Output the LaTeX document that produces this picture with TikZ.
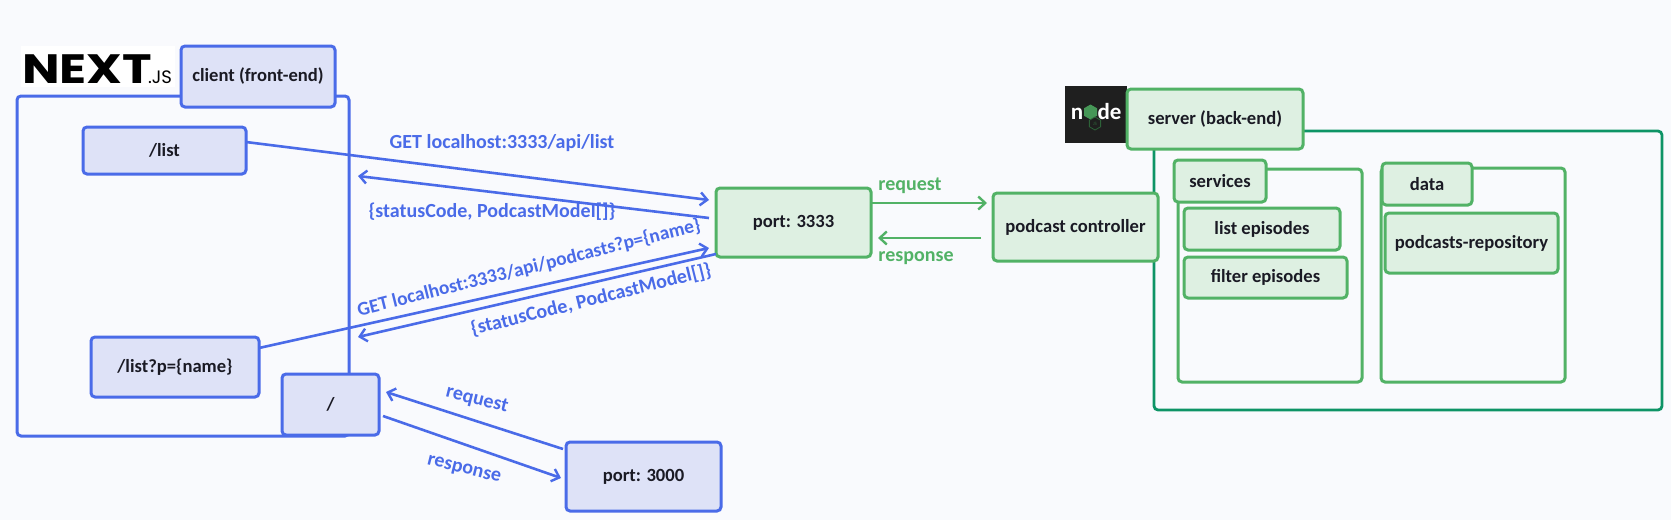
\documentclass[tikz,border=0pt]{standalone}
\usepackage{fontspec}
\setmainfont{Carlito}
\newfontfamily\logofont{Poppins}
\usetikzlibrary{arrows.meta,shapes.geometric}
\definecolor{bgc}{HTML}{F9FAFD}
\definecolor{bl}{HTML}{4A6BE8}
\definecolor{blf}{HTML}{DEE2F7}
\definecolor{gr}{HTML}{52B266}
\definecolor{grf}{HTML}{DEF0E2}
\definecolor{dg}{HTML}{0E9466}
\definecolor{txt}{HTML}{1A1A24}
\tikzset{
  every node/.style={outer sep=0pt,inner sep=0pt},
  box/.style={draw,line width=3pt,rounded corners=4pt,font=\fontsize{18.6}{21}\selectfont\bfseries,text=txt},
  bbox/.style={box,draw=bl,fill=blf},
  gbox/.style={box,draw=gr,fill=grf},
  bframe/.style={draw=bl,line width=3pt,rounded corners=4pt},
  gframe/.style={draw=gr,line width=3pt,rounded corners=4pt},
  dframe/.style={draw=dg,line width=2.8pt,rounded corners=4pt},
  blink/.style={bl,line width=2.6pt},
  glink/.style={gr,line width=2.6pt},
  barb/.style={-{Straight Barb[length=7pt,width=13pt,line width=2.4pt]}},
  blabel/.style={text=bl,font=\fontsize{20}{22}\selectfont\bfseries},
  glabel/.style={text=gr,font=\fontsize{20}{22}\selectfont\bfseries},
}
\begin{document}
\begin{tikzpicture}[x=1pt,y=-1pt]
\useasboundingbox[fill=bgc] (0,0) rectangle (1671,520);
% logos
\node[fill=white,minimum width=154pt,minimum height=41pt] (nextbg) at (98,66.5) {};
\node[font=\logofont\fontsize{41}{41}\selectfont\bfseries,text=black,anchor=base west,xscale=1.22] (nextname) at (22,83) {NEXT};
\node[font=\logofont\fontsize{18}{18}\selectfont,text=black,anchor=base west] (nextjs) at (148,83) {.JS};
\node[fill=black!88,minimum width=62pt,minimum height=57pt] (nodebg) at (1096,114.5) {};
\node[font=\fontsize{23}{23}\selectfont\bfseries,text=white,anchor=base] (noden) at (1077,119) {n};
\node[regular polygon,regular polygon sides=6,fill=gr!85!black,minimum size=15pt,rotate=30] (nodehex) at (1090.5,112) {};
\node[font=\fontsize{23}{23}\selectfont\bfseries,text=white,anchor=base] (nodede) at (1109.5,119) {de};
\node[regular polygon,regular polygon sides=6,draw=gr!55!black,line width=.8pt,minimum size=13pt,rotate=30] (nodejs) at (1095,123.5) {};
\node[font=\fontsize{5}{5}\selectfont,text=gr!55!black] (nodejst) at (1095,123.5) {JS};
% frames
\node[bframe,minimum width=332pt,minimum height=340pt] (clientframe) at (183,266) {};
\node[dframe,minimum width=508pt,minimum height=279pt] (serverframe) at (1408,270.5) {};
\node[gframe,minimum width=184pt,minimum height=213pt] (servicesframe) at (1270,275.5) {};
\node[gframe,minimum width=184pt,minimum height=214pt] (dataframe) at (1473,275) {};
% boxes
\node[bbox,minimum width=154pt,minimum height=61pt] (client) at (258,76.5) {client (front-end)};
\node[bbox,minimum width=163pt,minimum height=47pt] (list) at (164.5,150.5) {/list};
\node[bbox,minimum width=168pt,minimum height=60pt] (listp) at (175,367) {/list?p=\{name\}};
\node[bbox,minimum width=97pt,minimum height=61pt] (slash) at (330.5,404.5) {/};
\node[bbox,minimum width=155pt,minimum height=69pt] (p3000) at (643.5,476.5) {port: 3000};
\node[gbox,minimum width=155pt,minimum height=69pt] (p3333) at (793.5,222.5) {port: 3333};
\node[gbox,minimum width=165pt,minimum height=68pt] (ctrl) at (1075.5,227) {podcast controller};
\node[gbox,minimum width=176pt,minimum height=60pt] (server) at (1215,119) {server (back-end)};
\node[gbox,minimum width=92pt,minimum height=42pt] (services) at (1220,181) {services};
\node[gbox,minimum width=90pt,minimum height=42pt] (data) at (1427,184) {data};
\node[gbox,minimum width=156pt,minimum height=42pt] (listep) at (1262,229) {list episodes};
\node[gbox,minimum width=163pt,minimum height=41pt] (filterep) at (1265.5,277.5) {filter episodes};
\node[gbox,minimum width=173pt,minimum height=60pt] (repo) at (1471.5,243) {podcasts-repository};
% free ends
\coordinate (ret1) at (358,176);
\coordinate (ret2) at (358,337);
% connectors
\draw[blink,barb] ([shift={(0,-8.5)}]list.east) -- ([shift={(-7,-22.5)}]p3333.west);
\draw[blink,barb] ([shift={(-7,-4.5)}]p3333.west) -- (ret1);
\draw[blink,barb] ([shift={(0,-19)}]listp.east) -- ([shift={(-7,25.5)}]p3333.west);
\draw[blink,barb] ([shift={(0,31.5)}]p3333.west) -- (ret2);
\draw[blink,barb] ([shift={(-3,-27.5)}]p3000.west) -- ([shift={(7,-12.5)}]slash.east);
\draw[blink,barb] ([shift={(4,11.5)}]slash.east) -- ([shift={(-5,1.5)}]p3000.west);
\draw[glink,barb] ([shift={(0,-19.5)}]p3333.east) -- ([shift={(-6,-24)}]ctrl.west);
\draw[glink,barb] ([shift={(-12,11)}]ctrl.west) -- ([shift={(7,15.5)}]p3333.east);
% labels
\node[blabel] (l1) at (502,143) {GET localhost:3333/api/list};
\node[blabel] (l2) at (492,212) {\{statusCode, PodcastModel[]\}};
\node[blabel,rotate=14,font=\fontsize{19.4}{22}\selectfont\bfseries] (l3) at (529,268) {GET localhost:3333/api/podcasts?p=\{name\}};
\node[blabel,rotate=14] (l4) at (591,300) {\{statusCode, PodcastModel[]\}};
\node[blabel,rotate=-14] (l5) at (477,400) {request};
\node[blabel,rotate=-14] (l6) at (464,470) {response};
\node[glabel] (l7) at (910,186) {request};
\node[glabel] (l8) at (916,258) {response};
\end{tikzpicture}
\end{document}
